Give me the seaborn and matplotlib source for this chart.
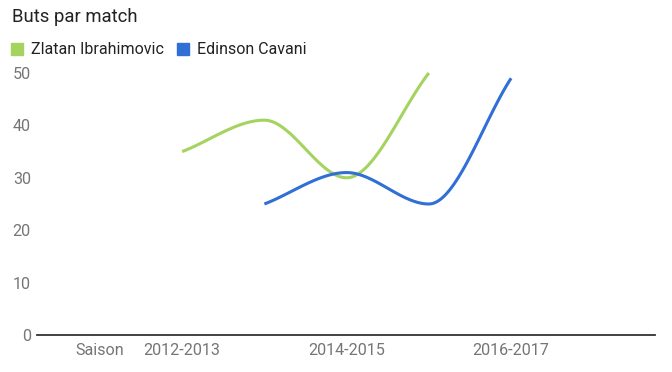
import numpy as np
import pandas as pd
import matplotlib
matplotlib.use("Agg")
import matplotlib.pyplot as plt
import seaborn as sns
from matplotlib.patches import Rectangle

seasons = ["Saison", "2012-2013", "2013-2014", "2014-2015", "2015-2016", "2016-2017"]
zlatan = [np.nan, 35, 41, 30, 50, np.nan]
cavani = [np.nan, np.nan, 25, 31, 25, 49]
series_names = ["Zlatan Ibrahimovic", "Edinson Cavani"]
colors = ["#a4d35f", "#2f6fd6"]
shown_ticks = ["Saison", "2012-2013", "2014-2015", "2016-2017"]
y_ticks = [0, 10, 20, 30, 40, 50]


def smooth(xs, ys, n=40):
    xs = np.asarray(xs, float)
    ys = np.asarray(ys, float)
    m = len(xs)
    t = np.zeros(m)
    for i in range(m):
        if i == 0:
            t[i] = (ys[1] - ys[0]) / (xs[1] - xs[0])
        elif i == m - 1:
            t[i] = (ys[-1] - ys[-2]) / (xs[-1] - xs[-2])
        else:
            d0 = ys[i] - ys[i - 1]
            d1 = ys[i + 1] - ys[i]
            if d0 * d1 <= 0:
                t[i] = 0.0
            else:
                t[i] = (ys[i + 1] - ys[i - 1]) / (xs[i + 1] - xs[i - 1])
    ox, oy = [], []
    for i in range(m - 1):
        h = xs[i + 1] - xs[i]
        s = np.linspace(0, 1, n)
        h00 = 2 * s**3 - 3 * s**2 + 1
        h10 = s**3 - 2 * s**2 + s
        h01 = -2 * s**3 + 3 * s**2
        h11 = s**3 - s**2
        ox.extend(xs[i] + s * h)
        oy.extend(h00 * ys[i] + h10 * h * t[i] + h01 * ys[i + 1] + h11 * h * t[i + 1])
    return np.array(ox), np.array(oy)


rows = []
for name, vals in zip(series_names, [zlatan, cavani]):
    idx = [i for i, v in enumerate(vals) if not np.isnan(v)]
    sx, sy = smooth(idx, [vals[i] for i in idx])
    for a, b in zip(sx, sy):
        rows.append({"x": a, "y": b, "serie": name})
df = pd.DataFrame(rows)

sns.set_theme(style="white")
plt.rcParams["font.family"] = ["Roboto", "DejaVu Sans"]

fig = plt.figure(figsize=(6.72, 3.72), dpi=100)
ax = fig.add_axes([37 / 672, 1 - 335 / 372, (655 - 37) / 672, (335 - 73) / 372])

sns.lineplot(data=df, x="x", y="y", hue="serie", palette=colors, sort=False,
             estimator=None, linewidth=2.2, legend=False, ax=ax)
for l in ax.lines:
    l.set_clip_on(False)
    l.set_solid_capstyle("butt")

pos = {s: i for i, s in enumerate(seasons)}
ax.set_xlim(-0.765, 6.75)
ax.set_ylim(0, 50)
ax.set_xticks([pos[s] for s in shown_ticks])
ax.set_xticklabels(shown_ticks)
ax.set_yticks(y_ticks)
ax.set_yticklabels([str(v) for v in y_ticks])
ax.tick_params(axis="both", length=0, labelsize=11.6, colors="#757575")
ax.tick_params(axis="x", pad=6)
ax.tick_params(axis="y", pad=4.5)
ax.set_xlabel("")
ax.set_ylabel("")
for sp in ["top", "right", "left"]:
    ax.spines[sp].set_visible(False)
ax.spines["bottom"].set_color("#333333")
ax.spines["bottom"].set_linewidth(1.3)
ax.grid(False)

fig.text(12 / 672, 1 - 17 / 372, "Buts par match", fontsize=13.3, color="#222222",
         va="center", ha="left")

lx = [11, 177]
for name, c, x0 in zip(series_names, colors, lx):
    fig.patches.append(Rectangle((x0 / 672, 1 - 55 / 372), 12 / 672, 12 / 372,
                                 transform=fig.transFigure, color=c))
    fig.text((x0 + 20) / 672, 1 - 49 / 372, name, fontsize=11.5, color="#222222",
             va="center", ha="left")

fig.savefig("out.png", dpi=100)
